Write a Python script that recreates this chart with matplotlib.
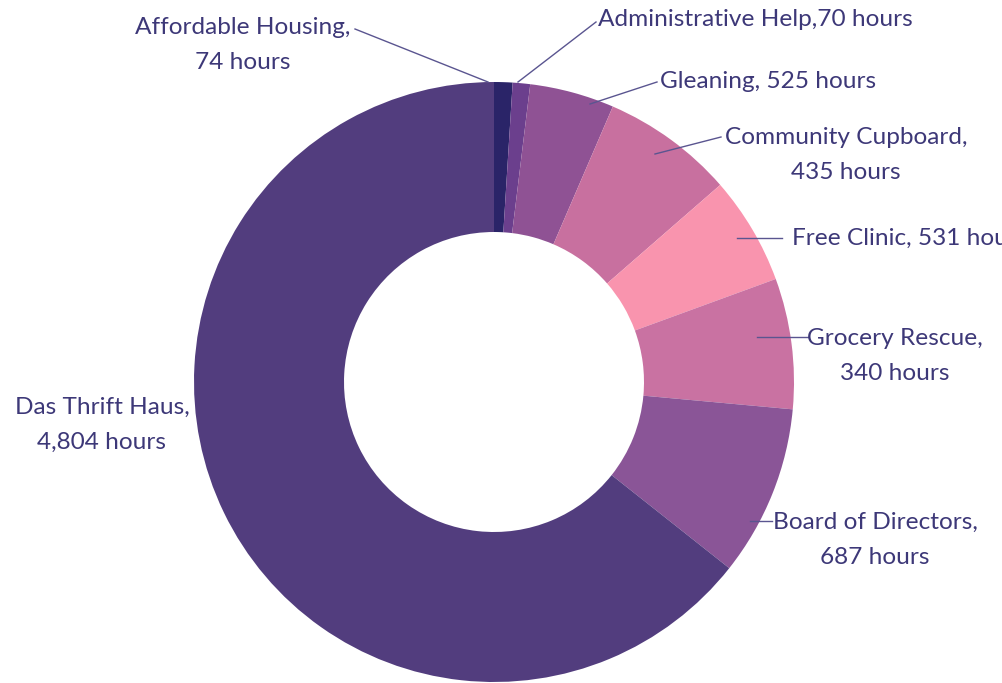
import matplotlib
matplotlib.use("Agg")
import matplotlib.pyplot as plt

# slices, clockwise from 12 o'clock
programs = [
    "Affordable Housing",
    "Administrative Help",
    "Gleaning",
    "Community Cupboard",
    "Free Clinic",
    "Grocery Rescue",
    "Board of Directors",
    "Das Thrift Haus",
]
# slice sizes as drawn in the picture
slice_hours = [74, 70, 340, 531, 435, 525, 687, 4804]
# numbers printed in the labels (they do not follow the slice sizes in the source)
label_hours = ["74", "70", "525", "435", "531", "340", "687", "4,804"]
colors = ["#2a2468", "#6b3f8d", "#8f5294", "#c8709f", "#f994ae",
          "#c972a2", "#8a5597", "#523d7e"]

label_text = [
    "{},\n{} hours".format(programs[0], label_hours[0]),
    "{},{} hours".format(programs[1], label_hours[1]),
    "{}, {} hours".format(programs[2], label_hours[2]),
    "{},\n{} hours".format(programs[3], label_hours[3]),
    "{}, {} hours".format(programs[4], label_hours[4]),
    "{},\n{} hours".format(programs[5], label_hours[5]),
    "{},\n{} hours".format(programs[6], label_hours[6]),
    "{},\n{} hours".format(programs[7], label_hours[7]),
]

# label placement in pixel coords (x, y from top), alignment, leader line
label_pos = [
    (243, 45, "center", [(355, 29), (488, 82)]),
    (598, 20, "left", [(596, 22), (518, 82)]),
    (660, 81, "left", [(657, 82), (590, 104)]),
    (846, 155, "center", [(721, 137), (655, 154)]),
    (792, 238, "left", [(782, 238), (737, 238)]),
    (895, 356, "center", [(808, 337), (757, 337)]),
    (875, 540, "center", [(772, 521), (750, 521)]),
    (102, 425, "center", None),
]

W, H = 1003, 683
text_color = "#3d3878"

fig = plt.figure(figsize=(W / 100, H / 100), dpi=100)
ax = fig.add_axes([0, 0, 1, 1])

ax.pie(
    slice_hours,
    colors=colors,
    startangle=90,
    counterclock=False,
    center=(494, H - 382),
    radius=300,
    wedgeprops=dict(width=150, linewidth=0),
    frame=True,
)
ax.set_xlim(0, W)
ax.set_ylim(0, H)
ax.axis("off")

for txt, (x, y, ha, leader) in zip(label_text, label_pos):
    ax.text(x, H - y, txt, ha=ha, va="center", fontsize=17.6,
            family=["Lato", "DejaVu Sans"], color=text_color, linespacing=1.85)
    if leader is not None:
        (x0, y0), (x1, y1) = leader
        ax.plot([x0, x1], [H - y0, H - y1], color="#5a5590", linewidth=1)

fig.savefig("out.png", dpi=100)
